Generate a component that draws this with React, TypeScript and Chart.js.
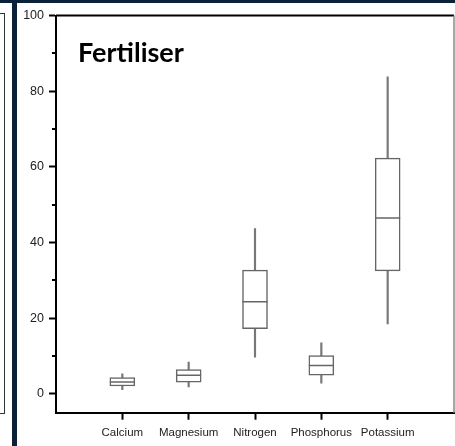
import React, { useEffect, useRef } from "react";
import { Chart, registerables } from "chart.js";

Chart.register(...registerables);

// Nutrient categories and box-plot statistics (mg/kg)
const categories = ["Calcium", "Magnesium", "Nitrogen", "Phosphorus", "Potassium"];
const whiskerLow = [1.1, 1.8, 9.7, 2.8, 18.5];
const quartile1 = [2.05, 3.1, 17.2, 4.9, 32.5];
const medians = [3.1, 4.9, 24.3, 7.5, 46.5];
const quartile3 = [4.3, 6.4, 32.7, 10.1, 62.3];
const whiskerHigh = [5.3, 8.4, 43.7, 13.5, 83.8];

const yMajorTicks = [0, 20, 40, 60, 80, 100];
const yMinorTicks = [10, 30, 50, 70, 90];

const NAVY = "#0a2138";
const FONT = "Arial, 'Liberation Sans', sans-serif";

// Draws the minor y ticks plus the top and right edges of the plot frame
const framePlugin = {
  id: "plotFrame",
  afterDraw(chart: any) {
    const { ctx, chartArea, scales } = chart;
    const y = scales.y;
    ctx.save();
    ctx.strokeStyle = "#000";
    ctx.lineWidth = 2;
    ctx.beginPath();
    yMinorTicks.forEach((v) => {
      const p = Math.round(y.getPixelForValue(v));
      ctx.moveTo(chartArea.left - 4, p);
      ctx.lineTo(chartArea.left, p);
    });
    ctx.moveTo(chartArea.left, chartArea.top);
    ctx.lineTo(chartArea.right, chartArea.top);
    ctx.stroke();
    ctx.strokeStyle = "#8a8a8a";
    ctx.lineWidth = 1.5;
    ctx.beginPath();
    ctx.moveTo(chartArea.right, chartArea.top);
    ctx.lineTo(chartArea.right, chartArea.bottom);
    ctx.stroke();
    ctx.restore();
  },
};

function BoxPlot() {
  const ref = useRef<HTMLCanvasElement | null>(null);

  useEffect(() => {
    if (!ref.current) return;
    const pos = categories.map((_, i) => i + 1);
    const chart = new Chart(ref.current, {
      type: "bar",
      data: {
        datasets: [
          {
            type: "line",
            data: pos.map((x, i) => ({ x, y: medians[i] })),
            showLine: false,
            pointStyle: "line",
            pointRadius: 12.5,
            pointBorderWidth: 1.5,
            pointBorderColor: "#666",
            borderColor: "#666",
          } as any,
          {
            data: pos.map((x, i) => ({ x, y: [quartile1[i], quartile3[i]] })),
            grouped: false,
            barThickness: 25,
            backgroundColor: "#fff",
            borderColor: "#666",
            borderWidth: 1.5,
            borderSkipped: false,
          } as any,
          {
            data: pos.map((x, i) => ({ x, y: [whiskerLow[i], whiskerHigh[i]] })),
            grouped: false,
            barThickness: 1.5,
            backgroundColor: "#777",
            borderWidth: 0,
          } as any,
        ],
      },
      options: {
        animation: false,
        responsive: false,
        layout: { autoPadding: false, padding: { top: 10.5, right: 1, left: 0, bottom: 0 } },
        plugins: { legend: { display: false }, tooltip: { enabled: false } },
        scales: {
          x: {
            type: "linear",
            min: 0,
            max: 6,
            offset: false,
            afterBuildTicks: (s: any) => {
              s.ticks = pos.map((v) => ({ value: v }));
            },
            afterFit: (s: any) => {
              s.height = 33.3;
              s.paddingLeft = 0;
              s.paddingRight = 0;
            },
            border: { display: true, color: "#000", width: 2 },
            grid: {
              offset: false,
              drawOnChartArea: false,
              drawTicks: true,
              tickLength: 7,
              tickColor: "#000",
              tickWidth: 2,
            },
            ticks: {
              autoSkip: false,
              maxRotation: 0,
              padding: 6,
              color: "#222",
              font: { family: FONT, size: 11.5 },
              callback: (v: any) => categories[Number(v) - 1] ?? "",
            },
          },
          y: {
            type: "linear",
            min: -5,
            max: 100,
            afterBuildTicks: (s: any) => {
              s.ticks = yMajorTicks.map((v) => ({ value: v }));
            },
            afterFit: (s: any) => {
              s.width = 39;
            },
            border: { display: true, color: "#000", width: 2 },
            grid: { drawOnChartArea: false, drawTicks: true, tickLength: 7, tickColor: "#000", tickWidth: 2 },
            ticks: { padding: 5, color: "#222", font: { family: FONT, size: 12.5 } },
          },
        },
      } as any,
      plugins: [framePlugin],
    });
    return () => chart.destroy();
  }, []);

  return <canvas ref={ref} width={438} height={443} style={{ display: "block", width: 438, height: 443 }} />;
}

export default function App() {
  return (
    <div style={{ position: "fixed", left: 0, top: 0, width: 455, height: 446, background: NAVY, overflow: "hidden" }}>
      <div style={{ position: "absolute", left: 0, top: 3, width: 12, height: 443, background: "#fff", overflow: "hidden" }}>
        <div
          style={{
            position: "absolute",
            left: -10,
            top: 10,
            width: 14.5,
            height: 400.5,
            boxSizing: "border-box",
            borderTop: "1.5px solid #333",
            borderRight: "1.5px solid #333",
            borderBottom: "1.5px solid #333",
          }}
        />
      </div>
      <div style={{ position: "absolute", left: 17, top: 3, width: 438, height: 443, background: "#fff" }}>
        <BoxPlot />
        <div
          style={{
            position: "absolute",
            left: 61,
            top: 35,
            fontFamily: "Lato, 'Open Sans', sans-serif",
            fontWeight: 700,
            fontSize: 27,
            lineHeight: "27px",
            color: "#000",
            whiteSpace: "nowrap",
          }}
        >
          Fertiliser
        </div>
      </div>
    </div>
  );
}
